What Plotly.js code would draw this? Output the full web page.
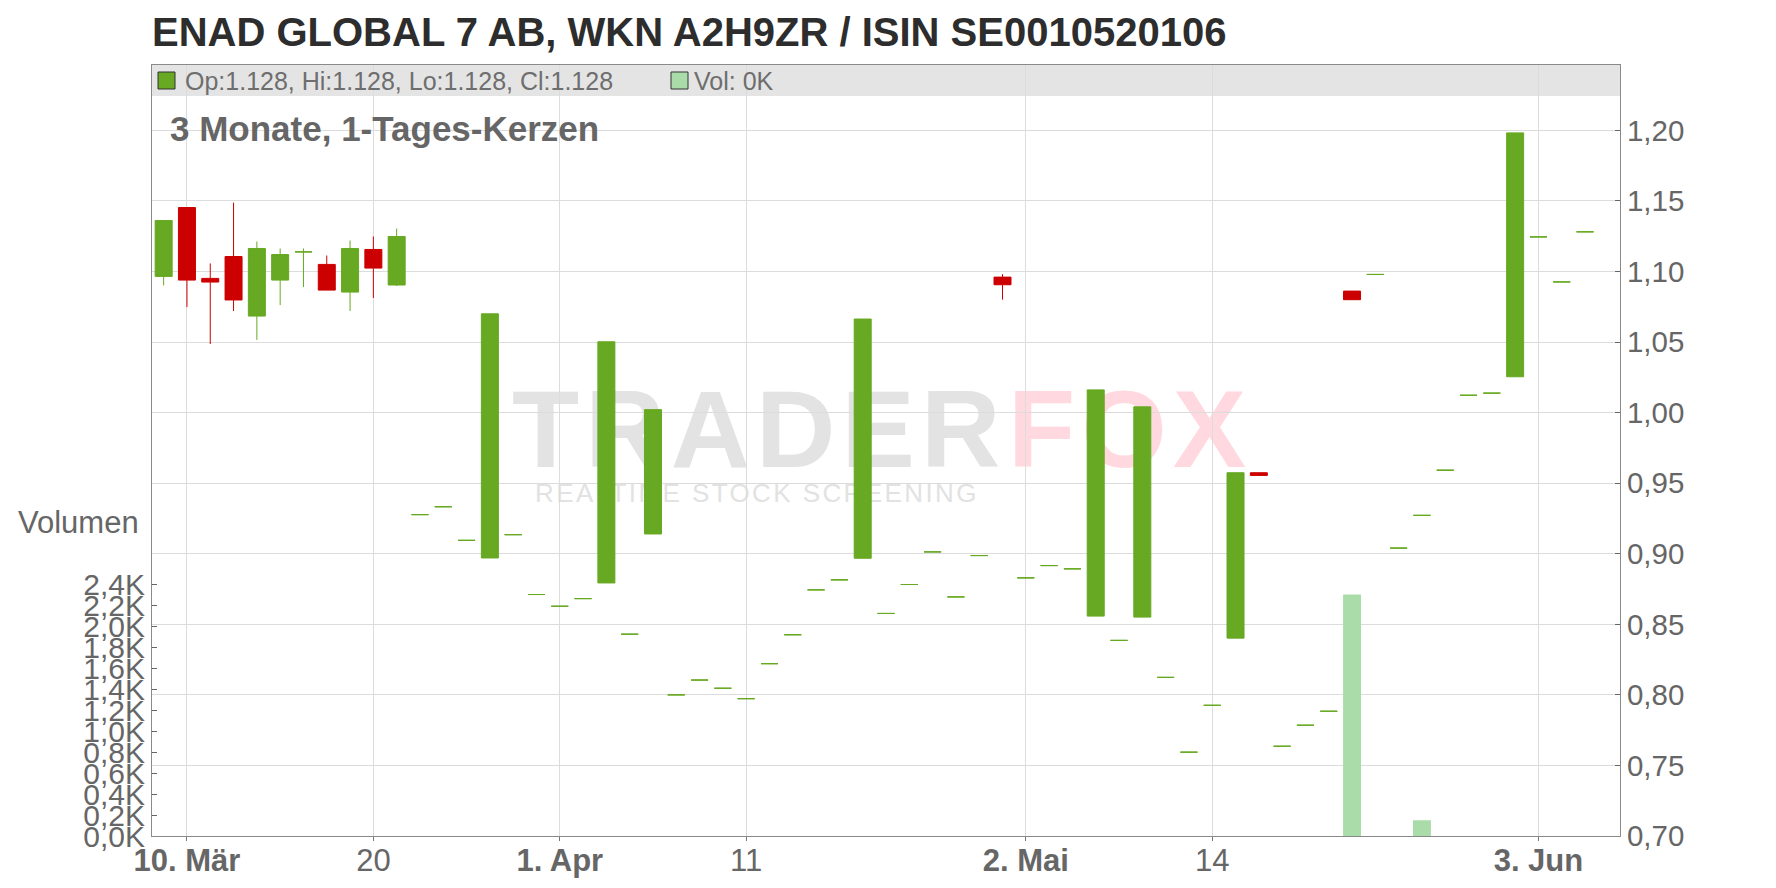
<!DOCTYPE html>
<html>
<head>
<meta charset="utf-8">
<script src="https://cdn.plot.ly/plotly-3.0.1.min.js"></script>
<style>
html,body{margin:0;padding:0;background:#ffffff;}
#wrap{position:relative;width:1776px;height:888px;overflow:hidden;}
#wm{position:absolute;left:0;top:0;width:1776px;height:888px;z-index:0;font-family:"Liberation Sans",Arial,sans-serif;}
#chart{position:absolute;left:0;top:0;width:1776px;height:888px;z-index:1;}
.wmbig{position:absolute;font-weight:bold;font-size:110px;line-height:110px;white-space:nowrap;letter-spacing:6px;}
.wmsmall{position:absolute;font-size:26px;line-height:26px;letter-spacing:2.4px;white-space:nowrap;color:#e2e2e2;}
</style>
</head>
<body>
<div id="wrap">
  <div id="wm">
    <span class="wmbig" style="left:512px;top:374px;color:#e3e3e3;">TRADER</span>
    <span class="wmbig" style="left:1008px;top:374px;color:#ffd9df;">FOX</span>
    <span class="wmsmall" style="left:535px;top:480px;">REALTIME STOCK SCREENING</span>
  </div>
  <div id="chart"></div>
</div>
<script>
// ---------------- data ----------------
const dates = [
  '2025-03-07','2025-03-10','2025-03-11','2025-03-12','2025-03-13','2025-03-14',
  '2025-03-17','2025-03-18','2025-03-19','2025-03-20','2025-03-21',
  '2025-03-24','2025-03-25','2025-03-26','2025-03-27','2025-03-28',
  '2025-03-31','2025-04-01','2025-04-02','2025-04-03','2025-04-04',
  '2025-04-07','2025-04-08','2025-04-09','2025-04-10','2025-04-11',
  '2025-04-14','2025-04-15','2025-04-16','2025-04-17',
  '2025-04-22','2025-04-23','2025-04-24','2025-04-25',
  '2025-04-28','2025-04-29','2025-04-30','2025-05-02',
  '2025-05-05','2025-05-06','2025-05-07','2025-05-08','2025-05-09',
  '2025-05-12','2025-05-13','2025-05-14','2025-05-15','2025-05-16',
  '2025-05-19','2025-05-20','2025-05-21','2025-05-22','2025-05-23',
  '2025-05-26','2025-05-27','2025-05-28','2025-05-29','2025-05-30',
  '2025-06-02','2025-06-03','2025-06-04','2025-06-05'
];
const open = [
  1.0965,1.1453,1.0951,1.1106,1.0684,1.0939,1.1139,1.1050,1.0854,1.1156,1.0904,
  0.9277,0.9333,0.9095,0.8970,0.9135,0.8711,0.8628,0.8682,0.8793,0.8430,
  0.9140,0.8000,0.8105,0.8047,0.7973,0.8221,0.8426,0.8744,0.8815,0.8968,
  0.8577,0.8782,0.9013,0.8694,0.8987,1.0960,0.8829,0.8916,0.8893,0.8558,
  0.8386,0.8551,0.8124,0.7594,0.7926,0.8402,0.9574,0.7636,0.7785,0.7884,
  1.0861,1.0979,0.9040,0.9272,0.9592,1.0123,1.0138,1.0254,1.1245,1.0926,1.1281
];
const high = [
  1.1361,1.1453,1.1057,1.1488,1.1212,1.1163,1.1163,1.1113,1.1219,1.1248,1.1304,
  0.9277,0.9333,0.9095,1.0700,0.9135,0.8711,0.8628,0.8682,1.0502,0.8430,
  1.0021,0.8000,0.8105,0.8047,0.7973,0.8221,0.8426,0.8744,0.8815,1.0663,
  0.8577,0.8782,0.9013,0.8694,0.8987,1.0981,0.8829,0.8916,0.8893,1.0161,
  0.8386,1.0041,0.8124,0.7594,0.7926,0.9574,0.9574,0.7636,0.7785,0.7884,
  1.0861,1.0979,0.9040,0.9272,0.9592,1.0123,1.0138,1.1982,1.1245,1.0926,1.1281
];
const low = [
  1.0901,1.0748,1.0486,1.0720,1.0515,1.0762,1.0889,1.0868,1.0720,1.0812,1.0897,
  0.9277,0.9333,0.9095,0.8970,0.9135,0.8711,0.8628,0.8682,0.8793,0.8430,
  0.9140,0.8000,0.8105,0.8047,0.7973,0.8221,0.8426,0.8744,0.8815,0.8968,
  0.8577,0.8782,0.9013,0.8694,0.8987,1.0800,0.8829,0.8916,0.8893,0.8558,
  0.8386,0.8551,0.8124,0.7594,0.7926,0.8402,0.9555,0.7636,0.7785,0.7884,
  1.0800,1.0979,0.9040,0.9272,0.9592,1.0123,1.0138,1.0254,1.1245,1.0926,1.1281
];
const close = [
  1.1361,1.0939,1.0925,1.0798,1.1163,1.1120,1.1139,1.0868,1.1163,1.1024,1.1248,
  0.9277,0.9333,0.9095,1.0700,0.9135,0.8711,0.8628,0.8682,1.0502,0.8430,
  1.0021,0.8000,0.8105,0.8047,0.7973,0.8221,0.8426,0.8744,0.8815,1.0663,
  0.8577,0.8782,0.9013,0.8694,0.8987,1.0906,0.8829,0.8916,0.8893,1.0161,
  0.8386,1.0041,0.8124,0.7594,0.7926,0.9574,0.9555,0.7636,0.7785,0.7884,
  1.0800,1.0979,0.9040,0.9272,0.9592,1.0123,1.0138,1.1982,1.1245,1.0926,1.1281
];
const volume = [
  0,0,0,0,0,0,0,0,0,0,0,
  0,0,0,0,0,0,0,0,0,0,
  0,0,0,0,0,0,0,0,0,0,
  0,0,0,0,0,0,0,0,0,0,
  0,0,0,0,0,0,0,0,0,0,
  2300,0,0,150,0,0,0,0,0,0,0
];
const tickDates  = ['2025-03-10','2025-03-20','2025-04-01','2025-04-11','2025-05-02','2025-05-14','2025-06-03'];
const tickLabels = ['<b>10. Mär</b>','20','<b>1. Apr</b>','11','<b>2. Mai</b>','14','<b>3. Jun</b>'];
const volTickVals = [0,200,400,600,800,1000,1200,1400,1600,1800,2000,2200,2400];
const titleText = 'ENAD GLOBAL 7 AB, WKN A2H9ZR / ISIN SE0010520106';
const subtitleText = '3 Monate, 1-Tages-Kerzen';

// ---------------- style / layout constants ----------------
const G = '#67a922', R = '#cc0000', VOLC = '#aadcaa';
const FONT = '"Liberation Sans", Arial, sans-serif';
const W = 1776, H = 888;
const M = {l:152, r:156, t:65, b:52};
const plotW = W - M.l - M.r;
const plotH = H - M.t - M.b;
const px = x => (x - M.l) / plotW;
const py = y => (H - M.b - y) / plotH;
const priceRange = [0.70, 1.2463];
const volRange = [0, 7343];

const volTickText = volTickVals.map(v => (v/1000).toFixed(1).replace('.', ',') + 'K');
const last = dates.length - 1;
const legendText = 'Op:' + open[last].toFixed(3) + ', Hi:' + high[last].toFixed(3) +
  ', Lo:' + low[last].toFixed(3) + ', Cl:' + close[last].toFixed(3);
const volText = 'Vol: ' + Math.round(volume[last]/1000) + 'K';

const upIdx = [], dnIdx = [];
dates.forEach((d, i) => { (close[i] >= open[i] ? upIdx : dnIdx).push(i); });
function candle(idx, col) {
  return {
    type: 'candlestick',
    x: idx.map(i => dates[i]),
    open: idx.map(i => open[i]),
    high: idx.map(i => high[i]),
    low: idx.map(i => low[i]),
    close: idx.map(i => close[i]),
    increasing: {line: {color: col, width: 1}, fillcolor: col},
    decreasing: {line: {color: col, width: 1}, fillcolor: col},
    whiskerwidth: 0,
    hoverinfo: 'skip',
    showlegend: false,
    xaxis: 'x', yaxis: 'y'
  };
}

const traces = [
  {type: 'bar', x: dates, y: volume, xaxis: 'x', yaxis: 'y2',
   marker: {color: VOLC, line: {width: 0}}, hoverinfo: 'skip', showlegend: false},
  candle(upIdx, G),
  candle(dnIdx, R)
];

const layout = {
  width: W, height: H,
  margin: {l: M.l, r: M.r, t: M.t, b: M.b, pad: 0},
  paper_bgcolor: 'rgba(0,0,0,0)',
  plot_bgcolor: 'rgba(0,0,0,0)',
  separators: ',.',
  showlegend: false,
  hovermode: false,
  dragmode: false,
  boxgap: 0.27,
  boxgroupgap: 0,
  bargap: 0.23,
  font: {family: FONT, color: '#666666'},
  title: {
    text: '<b>' + titleText + '</b>',
    font: {family: FONT, size: 40, color: '#2d2d2d'},
    xref: 'paper', x: 0, xanchor: 'left',
    yref: 'container', y: 1 - 32/H, yanchor: 'middle'
  },
  xaxis: {
    type: 'category', categoryorder: 'array', categoryarray: dates,
    range: [-0.5, dates.length + 0.5],
    tickmode: 'array', tickvals: tickDates, ticktext: tickLabels,
    ticks: 'outside', ticklen: 4, tickwidth: 1, tickcolor: '#777777',
    ticklabelstandoff: -7,
    showgrid: true, gridcolor: '#dcdcdc', gridwidth: 1,
    showline: true, linecolor: '#8a8a8a', linewidth: 1, mirror: true,
    zeroline: false,
    tickfont: {family: FONT, size: 31, color: '#666666'},
    rangeslider: {visible: false},
    fixedrange: true, automargin: false
  },
  yaxis: {
    side: 'right', range: priceRange,
    tick0: 0.70, dtick: 0.05, tickformat: '.2f',
    ticks: 'inside', ticklen: 5, tickwidth: 1, tickcolor: '#666666',
    showline: true, linecolor: '#8a8a8a', linewidth: 1,
    showgrid: true, gridcolor: '#dcdcdc', gridwidth: 1,
    zeroline: false,
    tickfont: {family: FONT, size: 29.5, color: '#666666'},
    fixedrange: true, automargin: false
  },
  yaxis2: {
    overlaying: 'y', side: 'left', range: volRange,
    tickmode: 'array', tickvals: volTickVals, ticktext: volTickText,
    ticks: 'inside', ticklen: 5, tickwidth: 1, tickcolor: '#666666',
    showline: true, linecolor: '#8a8a8a', linewidth: 1,
    showgrid: false, zeroline: false,
    tickfont: {family: FONT, size: 30, color: '#666666'},
    fixedrange: true, automargin: false
  },
  shapes: [
    {type: 'rect', xref: 'paper', yref: 'paper', x0: 0, x1: 1, y0: py(96), y1: 1,
     fillcolor: '#e4e4e4', line: {width: 0}, layer: 'below'},
    {type: 'rect', xref: 'paper', yref: 'paper', x0: px(158), x1: px(175), y0: py(89), y1: py(72),
     fillcolor: G, line: {color: '#333333', width: 1}, layer: 'above'},
    {type: 'rect', xref: 'paper', yref: 'paper', x0: px(671), x1: px(688), y0: py(89), y1: py(72),
     fillcolor: VOLC, line: {color: '#333333', width: 1}, layer: 'above'}
  ],
  annotations: [
    {xref: 'paper', yref: 'paper', x: px(183), y: py(81), xanchor: 'left', yanchor: 'middle',
     text: legendText, showarrow: false, font: {family: FONT, size: 25, color: '#6e6e6e'}},
    {xref: 'paper', yref: 'paper', x: px(692), y: py(81), xanchor: 'left', yanchor: 'middle',
     text: volText, showarrow: false, font: {family: FONT, size: 25, color: '#6e6e6e'}},
    {xref: 'paper', yref: 'paper', x: px(168), y: py(128), xanchor: 'left', yanchor: 'middle',
     text: '<b>' + subtitleText + '</b>', showarrow: false, font: {family: FONT, size: 35, color: '#666666'}},
    {xref: 'paper', yref: 'paper', x: px(16), y: py(522), xanchor: 'left', yanchor: 'middle',
     text: 'Volumen', showarrow: false, font: {family: FONT, size: 31, color: '#666666'}}
  ]
};

Plotly.newPlot('chart', traces, layout, {displayModeBar: false, staticPlot: true, responsive: false});
</script>
</body>
</html>
